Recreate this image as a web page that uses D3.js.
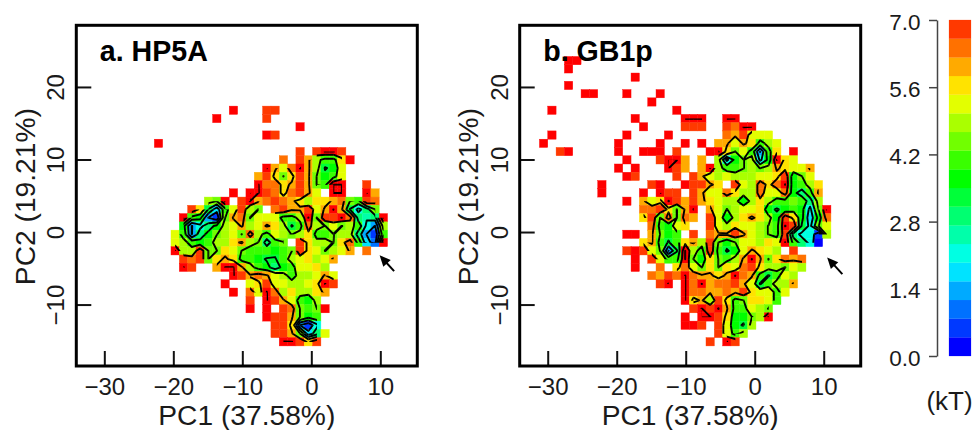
<!DOCTYPE html>
<html>
<head>
<meta charset="utf-8">
<script src="https://cdn.jsdelivr.net/npm/d3@7"></script>
<style>
  html, body { margin: 0; padding: 0; background: #fff; }
  svg { display: block; }
  text { font-family: "Liberation Sans", Arial, sans-serif; fill: #1a1a1a; }
</style>
</head>
<body>
<div id="chart"></div>
<script>
// free energy levels per grid cell: 0-9,a-i = bin on the colour bar, i = above 7 kT, "." = no data
const hp5aRows = [
  ".........i...hh",
  ".......i.....h",
  ".................i",
  ".............ih",
  "i",
  ".................h.hiih",
  "...............g.hfcaaei",
  ".............ifdgifc89d",
  "............fhebehfb9ad",
  "............iggefhfbaii..h",
  ".........i.iihgeghfd.ii..if",
  "......cbi.hifghgfeceefgbahg",
  "....he84adhcb.ghffhdfif857b",
  "...ia931bfgbdddaacibhhig767i",
  "...93579cdfcdfec8agcbdbca53c",
  "..da379bcdbgcadcbceaabcc731a",
  "..dca9accefcb7ab.heccbega42i",
  "..icchbbedbaaa9abhedbcdf.g",
  "...hghbefeaa988acdecdf",
  "...ih..fiifca979addec",
  ".........ihfgfdcaccdfd",
  "........i..dehddccdeih",
  ".........i.gdigceccef",
  "...........h.ihfda9c",
  "...........i.i.hgbabi",
  ".............ihhfb9a",
  "..............hhe315",
  "..............hhfb47d",
  "...............iiheh"
];
const gb1pRows = [
  "...ii",
  "...i",
  "...........i",
  "...i",
  ".....ii...i...i",
  ".............i",
  ".i..............i",
  "...........i.....iii..ii",
  "............i....hhh..hgii",
  ".i........i....i......gfhddd",
  "i........i....i..i.i.ffdfeacd",
  "..hi.....i..iii.h...iiebda3ae.i",
  "..........i...hiif.f.c59bc59ied",
  ".........i.i...ihf.ficaabcbcfeddf",
  "..........ih....h.hfdcdcccddeh9bd",
  ".......i.....hi..ihhfe.hdcgegi9ace",
  ".......i....i.ihh.hfddgeccgddg97af",
  "..........i.fdeihfhfedcc9cecaaba7c",
  "............gghebfi.fdbcdde989a95bi",
  "............ehbgbgf.hd9cefec9he949g",
  ".............ga9de..hdceddcbaih85bd",
  "..........ii.fb9a.h.gffhfdcbah7551c",
  "............efa8aefchb9bddcedia750",
  "..........hihdb38icaha89dfedc.h",
  "...........i.hdaaib9ebacfifbegfg",
  "...........i..g.egdbebedgheccbdc",
  ".............gfhgigffefigfa8adc",
  "..............hi.igifgghfd8accf",
  ".................iggffgfheddad",
  ".................iefcheabeeda",
  "..................hihifaadcb",
  ".................i.iihe99bci",
  ".................iih.hd98c",
  ".....................hdac",
  "....................h.ih"
];

const colourTicks = [0, 1.4, 2.8, 4.2, 5.6, 7];
const contourLevels = [1.4, 2.4, 3.4, 4.5, 5.9, 7];
const xTicks = [-30, -20, -10, 0, 10];
const yTicks = [-10, 0, 10, 20];

const panels = [
  { title: "a. HP5A", rows: hp5aRows, left: 76.3, colStart: 7, rowStart: 6, arrow: [[12, -5.4], [9.9, -3.2]] },
  { title: "b. GB1p", rows: gb1pRows, left: 519.7, colStart: 0, rowStart: 0, arrow: [[12.7, -5.8], [10.5, -3.5]] }
];

const width = 974, height = 430;
const plotWidth = 341, plotTop = 25.3, plotBottom = 366;

// both panels share one histogram grid
const gridPC1 = -31.2, gridPC2 = 24.2, cellPC1 = 1.207, cellPC2 = 1.14;

const nLevels = 18;
const levelColour = l => d3.hsl(240 - l * 240 / nLevels, 1, 0.5).formatHex();
const levelValue = l => l === nLevels ? 7.01 : (l + 0.5) * 7 / nLevels;

const svg = d3.select("#chart").append("svg")
  .attr("width", width)
  .attr("height", height);

// empty cells take the mean of their filled neighbours, so no contour runs along the data edge
function fillEmpty(grid) {
  const filled = grid.map(row => row.map(l => l === null ? null : levelValue(l)));
  let missing = true;
  while (missing) {
    missing = false;
    const snapshot = filled.map(row => row.slice());
    snapshot.forEach((row, r) => row.forEach((v, c) => {
      if (v !== null) return;
      const around = [];
      for (let i = -1; i <= 1; i++) {
        for (let j = -1; j <= 1; j++) {
          const n = (snapshot[r + i] || [])[c + j];
          if (n !== null && n !== undefined) around.push(n);
        }
      }
      if (around.length) filled[r][c] = d3.mean(around);
      else missing = true;
    }));
  }
  return filled.flat();
}

panels.forEach((panel, p) => {

  const x = d3.scaleLinear().domain([-34.06, 15.36]).range([panel.left, panel.left + plotWidth]);
  const y = d3.scaleLinear().domain([-18.47, 28.5]).range([plotBottom, plotTop]);

  const g = svg.append("g");

  const nCols = d3.max(panel.rows, r => r.length);
  const grid = panel.rows.map(r => r.padEnd(nCols, ".").split("").map(c => c === "." ? null : parseInt(c, 19)));

  const colX = c => x(gridPC1 + (panel.colStart + c) * cellPC1);
  const rowY = r => y(gridPC2 - (panel.rowStart + r) * cellPC2);

  const cells = grid.flatMap((row, r) => row.map((level, c) => ({ r, c, level }))).filter(d => d.level !== null);

  g.selectAll("rect.cell")
    .data(cells)
    .join("rect")
      .attr("class", "cell")
      .attr("x", d => colX(d.c))
      .attr("y", d => rowY(d.r))
      .attr("width", d => colX(d.c + 1) - colX(d.c))
      .attr("height", d => rowY(d.r + 1) - rowY(d.r))
      .attr("fill", d => levelColour(d.level))
      .attr("stroke", d => levelColour(d.level))
      .attr("stroke-width", 0.4);

  // contour lines exist only in squares whose four corners have data, as in R's contour()
  const clipId = `squares-${p}`;
  const squares = [];
  for (let r = 0; r < grid.length - 1; r++) {
    for (let c = 0; c < nCols - 1; c++) {
      if ([grid[r][c], grid[r][c + 1], grid[r + 1][c], grid[r + 1][c + 1]].every(v => v !== null)) squares.push({ r, c });
    }
  }
  g.append("clipPath").attr("id", clipId)
    .selectAll("rect")
    .data(squares)
    .join("rect")
      .attr("x", d => colX(d.c + 0.5))
      .attr("y", d => rowY(d.r + 0.5))
      .attr("width", d => colX(d.c + 1.5) - colX(d.c + 0.5) + 0.2)
      .attr("height", d => rowY(d.r + 1.5) - rowY(d.r + 0.5) + 0.2);

  const values = fillEmpty(grid);
  const contours = d3.contours().size([nCols, grid.length]).thresholds(contourLevels)(values);
  const path = d3.geoPath(d3.geoTransform({
    point: function(cx, cy) { this.stream.point(colX(cx), rowY(cy)); }
  }));

  g.append("g")
    .attr("clip-path", `url(#${clipId})`)
    .selectAll("path")
    .data(contours)
    .join("path")
      .attr("d", path)
      .attr("fill", "none")
      .attr("stroke", "#000")
      .attr("stroke-width", 1.9)
      .attr("stroke-linejoin", "round")
      .attr("stroke-linecap", "round");

  // arrow pointing at the marked basin
  const [from, to] = panel.arrow;
  const angle = Math.atan2(y(to[1]) - y(from[1]), x(to[0]) - x(from[0]));
  const headLine = d3.line()
    .x(d => x(to[0]) + d[0] * Math.cos(angle) - d[1] * Math.sin(angle))
    .y(d => y(to[1]) + d[0] * Math.sin(angle) + d[1] * Math.cos(angle));
  g.append("line")
    .attr("x1", x(from[0])).attr("y1", y(from[1]))
    .attr("x2", x(to[0]) - 3 * Math.cos(angle)).attr("y2", y(to[1]) - 3 * Math.sin(angle))
    .attr("stroke", "#000").attr("stroke-width", 2);
  g.append("path")
    .attr("d", headLine([[0, 0], [-11, 5], [-11, -5]]) + "Z")
    .attr("fill", "#000");

  // axes with inward ticks
  const xAxis = g.append("g")
    .attr("transform", `translate(0,${plotBottom})`)
    .call(d3.axisBottom(x).tickValues(xTicks).tickSize(-15).tickSizeOuter(0));
  xAxis.select(".domain").remove();
  xAxis.selectAll("line").attr("stroke", "#111").attr("stroke-width", 2);
  xAxis.selectAll("text")
    .attr("y", 29).attr("dy", 0)
    .attr("fill", "#1a1a1a")
    .style("font-size", "24px");

  const yAxis = g.append("g")
    .attr("transform", `translate(${panel.left},0)`)
    .call(d3.axisLeft(y).tickValues(yTicks).tickSize(-15).tickSizeOuter(0));
  yAxis.select(".domain").remove();
  yAxis.selectAll("line").attr("stroke", "#111").attr("stroke-width", 2);
  yAxis.selectAll("text")
    .attr("x", 0).attr("dy", 0)
    .attr("transform", "translate(-12,0) rotate(-90)")
    .attr("text-anchor", "middle")
    .attr("fill", "#1a1a1a")
    .style("font-size", "24px");

  g.append("rect")
    .attr("x", panel.left).attr("y", plotTop)
    .attr("width", plotWidth).attr("height", plotBottom - plotTop)
    .attr("fill", "none").attr("stroke", "#000").attr("stroke-width", 3);

  g.append("text")
    .attr("x", panel.left + 23.5).attr("y", 61)
    .attr("font-weight", "bold").attr("font-size", 28.6)
    .style("fill", "#000")
    .text(panel.title);

  g.append("text")
    .attr("x", panel.left + plotWidth / 2).attr("y", 425)
    .attr("text-anchor", "middle").attr("font-size", 28.2)
    .text("PC1 (37.58%)");

  g.append("text")
    .attr("transform", `translate(${panel.left - 41.3},${(plotTop + plotBottom) / 2 + 1}) rotate(-90)`)
    .attr("text-anchor", "middle").attr("font-size", 28.2)
    .text("PC2 (19.21%)");
});

// colour bar
const barY = d3.scaleLinear().domain([0, 7]).range([356, 20]);
const barX = 949, barWidth = 22;

svg.append("g").selectAll("rect")
  .data(d3.range(nLevels))
  .join("rect")
    .attr("x", barX)
    .attr("y", l => barY((l + 1) * 7 / nLevels))
    .attr("width", barWidth)
    .attr("height", l => barY(l * 7 / nLevels) - barY((l + 1) * 7 / nLevels))
    .attr("fill", levelColour)
    .attr("stroke", levelColour)
    .attr("stroke-width", 0.2);

const barAxis = svg.append("g")
  .attr("transform", "translate(937,0)")
  .call(d3.axisLeft(barY).tickValues(colourTicks).tickFormat(d3.format(".1f")).tickSize(8).tickSizeOuter(0));
barAxis.select(".domain").attr("stroke", "#444").attr("stroke-width", 1.5);
barAxis.selectAll("line").attr("stroke", "#444").attr("stroke-width", 1.5);
barAxis.selectAll("text")
  .attr("x", -16.5).attr("dy", "0.4em")
  .attr("fill", "#1a1a1a")
  .style("font-size", "22.5px");

svg.append("text")
  .attr("x", 949.5).attr("y", 410)
  .attr("text-anchor", "middle").attr("font-size", 26)
  .text("(kT)");
</script>
</body>
</html>
